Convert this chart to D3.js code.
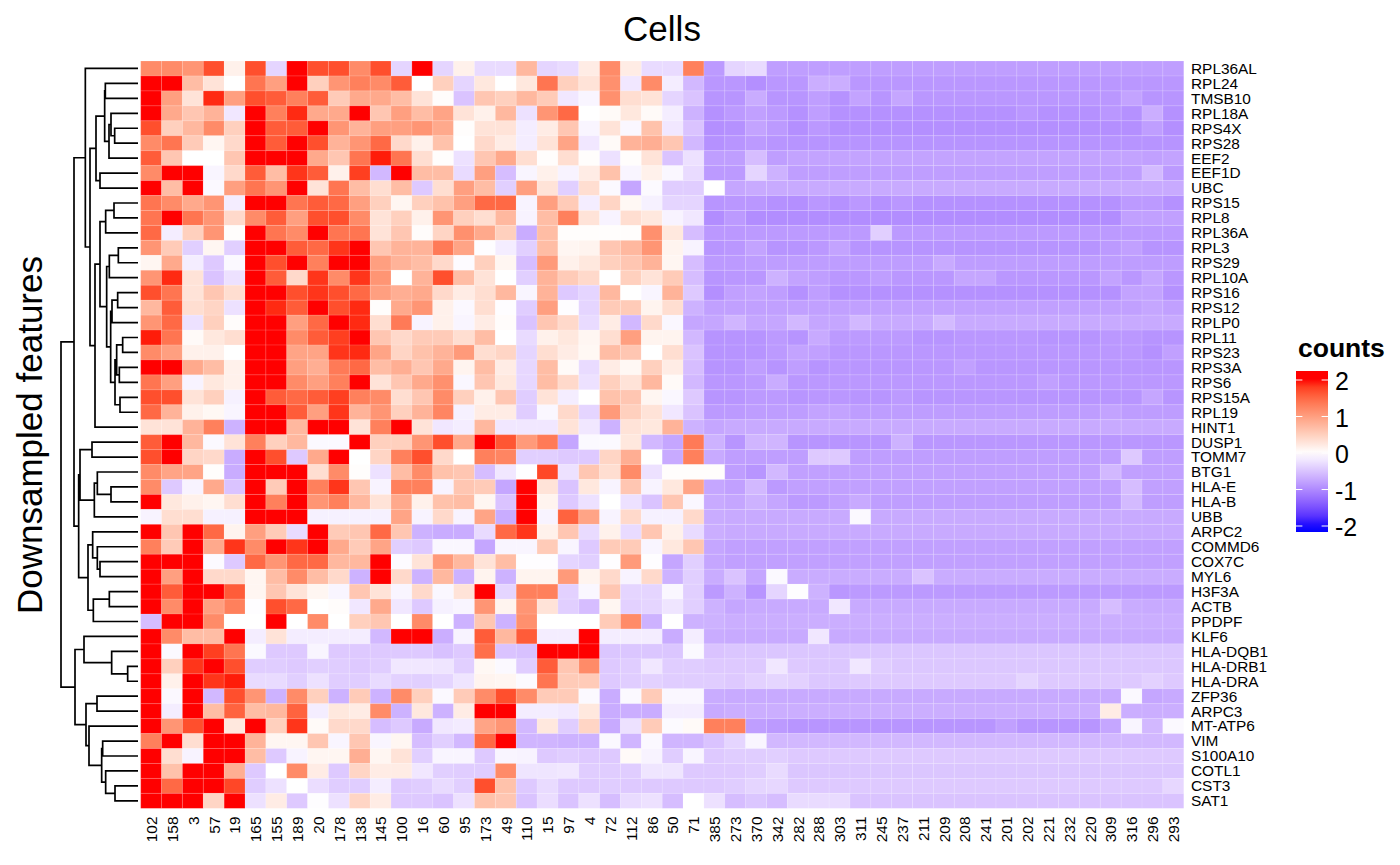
<!DOCTYPE html>
<html><head><meta charset="utf-8">
<script src="https://cdnjs.cloudflare.com/ajax/libs/d3/7.8.5/d3.min.js"></script>
<style>html,body{margin:0;padding:0;background:#fff}svg{display:block}text{font-family:"Liberation Sans",Arial,sans-serif;fill:#000}</style>
</head><body><svg id="c" width="1400" height="865"></svg>
<script>
const cells = ["102","158","3","57","19","165","155","189","20","178","138","145","100","16","60","95","173","49","110","15","97","4","72","112","86","50","71","385","273","370","342","282","288","303","311","245","237","211","209","208","241","201","202","221","232","220","309","316","296","293"];
const features = ["RPL36AL","RPL24","TMSB10","RPL18A","RPS4X","RPS28","EEF2","EEF1D","UBC","RPS15","RPL8","RPL36A","RPL3","RPS29","RPL10A","RPS16","RPS12","RPLP0","RPL11","RPS23","RPS3A","RPS6","RPS15A","RPL19","HINT1","DUSP1","TOMM7","BTG1","HLA-E","HLA-B","UBB","ARPC2","COMMD6","COX7C","MYL6","H3F3A","ACTB","PPDPF","KLF6","HLA-DQB1","HLA-DRB1","HLA-DRA","ZFP36","ARPC3","MT-ATP6","VIM","S100A10","COTL1","CST3","SAT1"];
const counts = [
[1.2,1.2,1.1,1.7,.15,1.7,-.35,2.2,1.7,1.7,1.2,1.7,-.35,2.2, -.35,.15,-.3,-.3,.75,-.35,-.3,.2,1.2,.2,-.3,-.3,1.3, -.85,-.35,-.3,-.82,-.82,-.82,-.82,-.82,-.82,-.82,-.82,-.82,-.82,-.82,-.82,-.82,-.82,-.82,-.82,-.82,-.82,-.82,-.82],
[2.2,2.2,.7,.3,0,1.4,1,2.2,.5,1.1,1.3,1.2,1.6,0, .5,-.35,.25,0,.25,1.4,.5,.3,1.15,-.2,1.2,-.15,-.6, -.88,-.88,-.95,-.88,-.88,-.68,-.68,-.88,-.88,-.88,-.88,-.88,-.88,-.88,-.88,-.88,-.88,-.88,-.88,-.88,-.88,-.88,-.88],
[2.2,1,.3,1.9,1,1.7,1.6,1.3,1.6,.55,.9,.9,.7,.3, .03,-.5,.6,.5,.75,.55,-.2,-.08,1.15,.35,.3,-.35,-.5, -.9,-.9,-.7,-.9,-.9,-.82,-.92,-.78,-.9,-.75,-.88,-.88,-.88,-.88,-.88,-.88,-.88,-.88,-.88,-.88,-.78,-.9,-.9],
[2.2,.9,.6,.8,-.2,2.2,1.3,1.9,.9,.9,2.2,.6,1,.7, .95,.3,.15,.75,-.25,1.1,1.5,0,.05,.25,.05,-.15,-.65, -.93,-.85,-.8,-.85,-.93,-.82,-.93,-.93,-.93,-.93,-.93,-.93,-.93,-.93,-.93,-.88,-.93,-.93,-.93,-.88,-.93,-.68,-.93],
[1.7,.5,.75,1.2,.5,2.2,1.6,1.6,2.2,1.1,.8,1,1,1.1, .9,.02,.3,.3,-.15,.2,.6,-.08,.3,-.07,.65,-.2,-.5, -.95,-.93,-.78,-.85,-.95,-.87,-.95,-.95,-.95,-.95,-.95,-.95,-.95,-.95,-.95,-.95,-.95,-.95,-.95,-.95,-.95,-.82,-.95],
[1.2,1.4,.55,.1,.4,2.2,1.6,2.2,1.7,.8,1.1,1.5,.4,.15, .65,0,.4,.2,-.15,.3,.95,-.2,.05,.8,.85,.6,-.6, -.93,-.9,-.85,-.9,-.91,-.91,-.91,-.91,-.91,-.91,-.91,-.91,-.91,-.91,-.91,-.91,-.91,-.91,-.91,-.91,-.91,-.91,-.91],
[1.6,.6,0,0,.6,2.2,2.2,2,.9,.6,1.4,1.95,1.4,.35, .02,-.25,.6,.9,.35,.02,.35,.02,-.25,.02,.3,-.5,-.25, -.82,-.82,-.55,-.82,-.78,-.78,-.78,-.78,-.78,-.78,-.78,-.78,-.78,-.78,-.78,-.78,-.78,-.78,-.78,-.78,-.78,-.8,-.78],
[1.2,2.2,2.2,-.08,.4,1.6,.7,1.85,1.6,.15,1.8,-.6,2.2,.7, .7,-.3,1,-.55,-.08,.15,-.1,.2,.65,-.08,.15,-.07,-.3, -.85,-.85,-.35,-.65,-.82,-.82,-.82,-.82,-.82,-.82,-.82,-.82,-.82,-.82,-.82,-.82,-.82,-.82,-.82,-.82,-.82,-.58,-.85],
[2.2,.7,2.2,-.05,1,1.4,1.1,2.2,.3,1.4,.7,.35,.7,-.45, .35,1,.7,-.4,1,.3,-.4,.35,-.05,-.75,-.04,-.42,-.42, 0,-.75,-.72,-.72,-.72,-.72,-.72,-.72,-.72,-.72,-.72,-.72,-.72,-.72,-.72,-.72,-.72,-.72,-.72,-.72,-.72,-.72,-.72],
[1.4,1.2,.9,1.1,-.15,2.2,2.2,1.4,1.6,1.5,1,.5,.1,.5, .65,1,1.5,1.5,-.1,1,.55,-.15,.45,.08,-.12,-.35,-.35, -.9,-.88,-.88,-.93,-.95,-.88,-.93,-.87,-.93,-.88,-.93,-.93,-.93,-.93,-.93,-.93,-.93,-.93,-.93,-.93,-.85,-.85,-.93],
[1.4,2.2,1.4,1.1,.4,1.2,1.6,1,1.7,1.7,1.2,.3,.5,.15, 1.1,.5,.35,.75,-.1,.7,1.3,.3,-.1,.35,.25,-.1,-.2, -.97,-.85,-.97,-.97,-.97,-.97,-.97,-.97,-.97,-.97,-.97,-.97,-.97,-.97,-.97,-.97,-.97,-.97,-.97,-.97,-.8,-.8,-.8],
[1.5,-.15,.5,1.1,.02,2.2,1.4,1.2,2.2,1.4,1.4,.3,.6,.03, .45,1.15,.9,.5,-.7,.7,.02,.02,.02,.02,1.15,.25,-.55, -.87,-.87,-.85,-.85,-.85,-.85,-.85,-.85,-.4,-.85,-.85,-.85,-.85,-.85,-.85,-.85,-.85,-.85,-.85,-.85,-.85,-.85,-.85],
[1.1,.55,-.4,.1,-.4,2.2,2.2,1.6,1.5,1.85,2,.6,.8,.8, 1.35,.95,-.02,-.15,-.4,.7,.1,.12,.6,.75,1.1,.12,-.1, -.9,-.88,-.78,-.91,-.91,-.87,-.78,-.91,-.91,-.91,-.91,-.91,-.91,-.91,-.91,-.91,-.91,-.91,-.91,-.85,-.8,-.91,-.91],
[.1,.9,-.15,-.45,-.05,2.2,1.7,2.2,1.3,2,2.2,1,.8,.7, .4,-.03,.5,.1,-.55,1.05,.15,.25,.5,.6,.8,.1,-.55, -.85,-.85,-.83,-.83,-.83,-.83,-.83,-.83,-.83,-.83,-.83,-.72,-.83,-.83,-.83,-.83,-.83,-.83,-.83,-.83,-.83,-.83,-.83],
[1.1,1.9,.3,-.5,-.25,2.2,1.6,.4,1.85,1.2,1.85,1.1,0,.8, 1.7,.7,.3,0,-.4,.8,.55,.4,0,.5,.3,.55,-.55, -.9,-.88,-.88,-.65,-.78,-.82,-.88,-.88,-.82,-.88,-.88,-.88,-.75,-.75,-.88,-.88,-.88,-.88,-.88,-.78,-.88,-.75,-.88],
[1.7,1.4,.3,.6,.35,2.2,2,1.7,1.85,1.7,1.5,1,.85,.9, .4,.2,.35,.75,-.08,.8,-.45,-.35,.75,0,-.08,.8,-.45, -.95,-.8,-.78,-.82,-.93,-.82,-.93,-.93,-.93,-.93,-.93,-.93,-.93,-.93,-.93,-.93,-.93,-.93,-.93,-.93,-.78,-.78,-.93],
[.75,1.6,.35,.45,-.25,2.2,1.9,1.6,2.2,1.7,1.9,.02,.9,1.1, .15,-.06,.35,-.02,-.42,1,-.02,-.35,.55,.55,.12,.35,-.65, -.8,-.8,-.8,-.8,-.8,-.8,-.8,-.8,-.8,-.8,-.8,-.8,-.8,-.8,-.8,-.8,-.8,-.8,-.8,-.8,-.8,-.75,-.8],
[1.1,1.5,-.25,.5,.03,2.2,2.2,1,1.5,2,1.9,.35,1.35,-.1, .15,-.08,.2,.03,-.5,.6,.4,-.3,.2,-.6,.4,-.07,-.75, -.75,-.62,-.75,-.75,-.6,-.75,-.75,-.6,-.72,-.72,-.72,-.58,-.72,-.72,-.72,-.72,-.72,-.72,-.72,-.72,-.72,-.72,-.72],
[1.95,1.4,.05,.25,.35,2.2,2.2,1.2,1.6,1.8,2,.6,.4,.55, .55,.35,.7,0,-.3,.15,.25,.1,.35,1,.12,.12,-.6, -.91,-.91,-.91,-.85,-.91,-.72,-.85,-.85,-.85,-.85,-.91,-.91,-.88,-.88,-.88,-.88,-.91,-.91,-.91,-.87,-.87,-.91,-.91],
[1.2,1,.15,.15,0,2.2,2.2,.95,.95,1.85,1.9,.95,.45,.65, .8,1.05,.35,.45,-.35,.35,.2,.08,.7,.6,0,.35,-.5, -.91,-.91,-.91,-.85,-.78,-.8,-.88,-.88,-.88,-.88,-.88,-.88,-.88,-.88,-.88,-.88,-.88,-.88,-.88,-.87,-.87,-.93,-.8],
[2.2,2,.9,.7,.15,2.2,2.2,1,.85,1.35,1.5,.7,.85,.6, .9,.12,.7,.2,-.33,.7,.05,-.3,.2,.08,.5,.2,-.55, -.91,-.91,-.82,-.91,-.82,-.91,-.88,-.89,-.89,-.89,-.88,-.88,-.8,-.89,-.89,-.89,-.89,-.89,-.89,-.89,-.89,-.89,-.89],
[1.4,1,-.1,.25,.15,2.2,2.2,1.2,1,1.3,2.2,.3,.6,.9, 1.15,-.07,.6,.25,-.33,.7,.4,-.25,.5,.3,.75,.05,-.6, -.88,-.88,-.85,-.7,-.88,-.87,-.87,-.87,-.87,-.87,-.87,-.87,-.87,-.87,-.87,-.87,-.8,-.87,-.87,-.87,-.87,-.87,-.87],
[1.7,1.7,.3,.5,-.12,2.2,1.6,1.5,1.6,1.8,1.3,1.2,.35,.6, 1.2,.5,.15,.6,-.42,.3,-.15,0,.65,.6,.1,-.07,-.45, -.9,-.9,-.85,-.85,-.9,-.88,-.88,-.9,-.9,-.85,-.9,-.9,-.89,-.89,-.89,-.9,-.9,-.9,-.9,-.9,-.9,-.75,-.9],
[1.5,.8,.15,.08,-.08,2.2,2.2,1.6,1,1.85,.8,1.1,.5,.8, 1.25,-.12,.2,.2,-.42,-.07,.4,-.35,1.05,.5,.3,-.2,-.5, -.85,-.85,-.83,-.83,-.83,-.78,-.78,-.83,-.83,-.83,-.83,-.83,-.83,-.83,-.83,-.83,-.83,-.83,-.83,-.78,-.83,-.83,-.83],
[.3,.3,.8,1.3,-.65,2.2,2.2,.75,2.2,2.2,.3,1.3,2.2,.3, -.2,-.15,.75,-.2,-.2,-.2,.3,-.2,-.65,.3,.25,.8,-.65, -.75,-.72,-.72,-.72,-.72,-.72,-.72,-.72,-.72,-.72,-.72,-.72,-.72,-.72,-.72,-.72,-.72,-.72,-.72,-.72,-.72,-.72,-.72],
[1.6,2.2,.75,-.05,.3,1.3,.5,.75,-.05,-.05,2.2,.5,.5,1.1, 1.7,.9,2.2,1.65,1.05,1.35,-.75,-.05,-.05,.25,-.6,-.75,1.35, -.65,-.9,-.62,-.62,-.9,-.9,-.9,-.9,-.9,-.65,-.88,-.88,-.88,-.88,-.88,-.88,-.88,-.88,-.88,-.88,-.88,-.88,-.88],
[1.7,2.2,.45,.4,-.7,2.2,1.7,-.45,.9,2.2,0,.45,1.3,1.7, .4,0,1.3,1.25,-.4,-.4,-.45,-.45,.45,.85,0,-.72,1.3, -.72,-.82,-.82,-.82,-.82,-.45,-.45,-.82,-.82,-.82,-.82,-.82,-.82,-.82,-.82,-.82,-.82,-.82,-.82,-.82,-.45,-.82,-.82],
[1.2,.95,.95,.02,-.7,2.2,2.2,2.2,.35,1.2,.02,-.25,.7,1.2, .65,.6,-.55,-.2,-.01,1.75,-.25,.6,.35,1.2,-.25,.02,.02, .02,-.82,-.9,-.6,-.8,-.8,-.8,-.8,-.8,-.8,-.8,-.8,-.8,-.8,-.8,-.8,-.8,-.8,-.8,-.6,-.8,-.8,-.8],
[1.2,-.45,-.1,.9,-.5,2.2,.55,2.2,1.3,1.85,.6,-.1,1.3,1.3, -.1,.6,.55,-.75,2.2,.3,-.5,.25,-.1,.6,-.1,.25,.95, -.75,-.8,-.6,-.85,-.8,-.8,-.8,-.8,-.8,-.8,-.8,-.8,-.8,-.8,-.8,-.8,-.8,-.8,-.8,-.8,-.55,-.8,-.8],
[2.2,.25,.15,.1,.35,2.1,1.3,2.2,1.1,1.3,.75,.3,.9,.15, .65,.7,.1,-.5,2.2,.12,-.45,-.25,0,-.25,-.5,.6,-.07, -.72,-.75,-.65,-.75,-.85,-.85,-.8,-.72,-.82,-.82,-.82,-.82,-.82,-.82,-.82,-.82,-.82,-.82,-.82,-.82,-.58,-.82,-.82],
[-.1,.35,.35,-.12,-.12,2.1,2.2,2.2,-.12,-.12,-.12,-.12,.95,-.1, .4,-.1,.95,-.7,2.2,-.1,1.55,.95,-.1,.4,-.12,-.12,.4, -.7,-.72,-.72,-.72,-.72,-.72,-.72,-.05,-.72,-.72,-.72,-.72,-.72,-.72,-.72,-.72,-.72,-.72,-.72,-.72,-.72,-.72,-.72],
[2.2,.6,2.2,1.5,.12,1,.55,-.3,2.2,.55,.6,1.5,.6,-.65, -.7,-.7,-.3,1.5,1.85,.15,.6,-.3,.15,-.3,.6,.15,-.3, -.68,-.72,-.72,-.72,-.72,-.72,-.72,-.72,-.72,-.72,-.72,-.72,-.72,-.72,-.72,-.72,-.72,-.72,-.72,-.72,-.72,-.72,-.72],
[1.3,.55,2.2,.9,1.85,1.2,2.2,1.85,2.2,.9,.55,.95,-.4,-.45, -.07,-.07,-.75,-.08,-.08,.55,-.08,-.45,.55,.55,-.08,.25,.6, -.75,-.8,-.8,-.8,-.8,-.8,-.8,-.8,-.8,-.8,-.8,-.8,-.8,-.8,-.8,-.8,-.8,-.8,-.8,-.8,-.8,-.8,-.8],
[2.2,2.2,2.2,-.04,-.45,1.5,1.1,1.5,1.5,.75,.75,2.2,-.03,.3, 1.05,.75,.3,.7,-.02,-.02,-.35,-.4,-.02,1.05,-.02,-.75,-.4, -.75,-.8,-.8,-.8,-.8,-.8,-.8,-.8,-.8,-.8,-.8,-.8,-.8,-.8,-.8,-.8,-.8,-.8,-.8,-.8,-.8,-.8,-.8],
[2.2,1,2.2,.4,.4,.1,.7,1.2,.7,.4,-.65,2.2,.4,-.65, .75,-.65,.12,-.65,.12,.12,1.05,.12,.4,-.1,.4,-.65,-.4, -.7,-.5,-.75,-.05,-.7,-.7,-.7,-.7,-.7,-.7,-.5,-.7,-.7,-.7,-.7,-.7,-.7,-.7,-.7,-.7,-.7,-.7,-.7],
[2.2,1.6,2.2,2.2,1.6,.1,.6,.3,.1,-.08,.6,.3,-.08,.4, -.07,.3,2.2,-.35,1.3,1.3,-.38,-.07,.6,-.35,-.35,-.07,-.4, -.85,-.65,-.9,-.35,-.02,-.65,-.88,-.85,-.85,-.85,-.85,-.85,-.85,-.85,-.85,-.85,-.85,-.85,-.85,-.85,-.85,-.85,-.85],
[2.2,1.2,2.2,1,1.3,-.02,1.7,1.5,0,.03,-.2,.9,-.2,-.45, -.12,-.08,1.1,.12,1.1,.3,-.4,-.55,.1,-.38,-.35,-.22,-.4, -.65,-.75,-.72,-.72,-.72,-.72,-.2,-.72,-.72,-.72,-.72,-.72,-.72,-.72,-.72,-.72,-.72,-.72,-.72,-.55,-.7,-.72,-.72],
[-.55,2.2,2.2,1.2,0,0,2.2,0,1.2,0,.5,.6,0,1.2, 0,-.65,.6,-.65,1.15,0,0,0,.55,1.2,-.65,0,-.65, -.65,-.68,-.68,-.68,-.68,-.68,-.68,-.68,-.68,-.68,-.68,-.68,-.68,-.68,-.68,-.68,-.68,-.68,-.68,-.68,-.68,-.68,-.68],
[2.2,1.2,.7,.7,2.2,-.15,.3,-.15,-.15,-.15,-.15,-.6,2.2,2.2, -.68,-.1,1.6,.75,1.6,-.15,-.15,2.2,-.15,-.15,-.15,-.7,-.15, -.7,-.72,-.72,-.72,-.72,-.2,-.72,-.72,-.72,-.72,-.72,-.72,-.72,-.72,-.72,-.72,-.72,-.72,-.72,-.72,-.72,-.72,-.72],
[2.2,-.05,2.2,1.8,1.4,-.05,-.45,-.45,-.08,-.45,-.45,-.45,-.45,-.45, -.52,-.45,1.45,-.5,-.52,2.2,2.2,2.2,-.48,-.48,-.48,-.48,-.05, -.5,-.48,-.48,-.48,-.48,-.48,-.48,-.48,-.48,-.48,-.48,-.48,-.48,-.48,-.48,-.48,-.48,-.48,-.48,-.48,-.48,-.48,-.48],
[2.2,.5,1.85,2.2,1.7,-.42,-.42,-.45,-.4,-.42,-.45,-.42,-.2,-.2, -.22,-.4,.08,-.05,-.42,1.6,.6,1.2,-.45,-.42,-.2,-.42,-.42, -.45,-.45,-.45,-.2,-.45,-.47,-.47,-.2,-.42,-.47,-.47,-.47,-.47,-.47,-.47,-.47,-.47,-.47,-.47,-.47,-.47,-.47,-.47],
[2.2,.15,2.2,1.85,1.95,-.3,-.3,-.4,-.25,-.42,-.42,-.3,-.38,-.4, -.35,-.22,.12,.1,-.04,1.4,.55,.55,-.45,-.42,-.38,-.42,-.42, -.42,-.45,-.38,-.35,-.38,-.47,-.47,-.45,-.45,-.45,-.45,-.45,-.45,-.45,-.45,-.35,-.45,-.45,-.45,-.45,-.45,-.38,-.45],
[2.2,-.06,2.2,-.6,1.7,1.1,-.65,1.2,.5,-.65,.55,-.65,1.2,.5, -.05,.55,1.2,1.7,1.2,.55,.55,-.05,-.7,-.05,.55,-.07,-.07, -.7,-.72,-.72,-.72,-.72,-.72,-.72,-.72,-.72,-.72,-.72,-.72,-.72,-.72,-.72,-.72,-.72,-.72,-.72,-.72,-.05,-.75,-.72],
[2.2,-.15,2.2,.7,1.55,.7,.75,1.55,-.15,.25,.2,1.2,-.65,.25, -.65,.2,2.2,2.2,-.15,-.15,-.18,.25,-.7,-.68,-.7,-.15,-.15, -.72,-.68,-.68,-.68,-.68,-.68,-.68,-.68,-.68,-.68,-.68,-.68,-.68,-.68,-.68,-.68,-.68,-.68,-.68,.2,-.68,-.68,-.68],
[2.2,1.1,1.7,2.2,.25,2.2,.5,1.85,.05,.4,.4,-.55,-.45,-.72, -.2,-.17,.95,1.1,-.6,.25,-.42,.45,-.72,-.25,.55,-.04,.05, 1.3,1.3,-.82,-.85,-.9,-.9,-.9,-.9,-.9,-.9,-.9,-.9,-.9,-.9,-.8,-.9,-.9,-.9,-.9,-.75,-.08,-.6,-.05],
[1.3,2.2,.35,2.2,2.2,.8,.1,.1,.6,-.08,.6,-.08,.1,-.55, -.4,-.6,1.5,2.2,-.62,-.62,-.65,-.65,-.06,-.62,-.06,-.62,-.62, -.5,-.35,-.08,-.6,-.6,-.6,-.6,-.6,-.6,-.6,-.6,-.6,-.6,-.6,-.6,-.6,-.6,-.6,-.6,-.6,-.6,-.6,-.6],
[2.2,.35,-.1,2.2,2.2,.7,-.45,-.1,.1,.1,.85,.1,.3,-.4, -.08,-.08,-.45,-.08,-.1,-.45,-.42,-.45,-.45,.05,-.1,-.42,-.08, -.45,-.42,-.42,-.4,-.45,-.45,-.45,-.45,-.45,-.45,-.45,-.45,-.45,-.45,-.45,-.45,-.45,-.45,-.45,-.45,-.45,-.45,-.45],
[2.2,.65,2.2,2.2,.85,-.45,0,1.2,.2,-.45,.45,.2,.2,-.2, -.4,-.42,-.42,1.2,-.22,-.22,-.2,-.42,-.42,-.42,-.22,-.22,-.45, -.45,-.45,-.42,-.3,-.48,-.48,-.48,-.48,-.48,-.48,-.48,-.48,-.48,-.48,-.48,-.48,-.48,-.48,-.48,-.48,-.48,-.48,-.48],
[2.2,1.5,2.2,2.2,1.75,-.42,-.25,0,-.28,-.42,-.42,-.15,-.45,-.42, -.3,-.4,1.7,.65,-.45,-.3,-.45,-.45,-.42,-.45,-.45,-.45,-.45, -.45,-.42,-.35,-.33,-.45,-.45,-.45,-.45,-.45,-.45,-.45,-.45,-.45,-.45,-.45,-.45,-.45,-.45,-.45,-.45,-.45,-.45,-.33],
[2.2,2.2,2.2,.45,2.2,-.25,.2,-.45,-.02,-.25,.45,.2,-.45,-.45, -.5,-.25,.65,.6,-.5,-.28,-.5,-.25,-.55,-.3,-.25,-.55,0, -.25,-.55,-.48,-.55,-.3,-.3,-.3,-.5,-.5,-.5,-.5,-.5,-.5,-.5,-.5,-.5,-.5,-.5,-.5,-.5,-.5,-.5,-.5]
];
const legendTicks = [-2,-1,0,1,2];
const node = (h, a, b) => ({h, children:[a,b]});
const rowTree = node(231,
  node(192,
    node(158,"RPL36AL",
      node(144,
        node(126,
          node(100,
            node(98,"RPL24","TMSB10"),
            node(87,node(81,"RPL18A",node(70,"RPS4X","RPS28")),"EEF2")),
          node(114,"EEF1D","UBC")),
        node(129,
          node(114,
            node(97,node(72,"RPS15","RPL8"),"RPL36A"),
            node(94,
              node(86,node(59,"RPL3","RPS29"),"RPL10A"),
              node(82,
                node(78,node(61,"RPS16","RPS12"),"RPLP0"),
                node(69,
                  node(64,node(46,"RPL11","RPS23"),node(56,"RPS3A","RPS6")),
                  node(54,"RPS15A","RPL19"))))),
          "HINT1"))),
    node(178,
      node(174,
        node(138,"DUSP1","TOMM7"),
        node(131,node(122,"BTG1",node(81,"HLA-E","HLA-B")),"UBB")),
      node(150,
        node(136,"ARPC2",node(122,"COMMD6",node(114,"COX7C","MYL6"))),
        node(134,node(86,"H3F3A","ACTB"),"PPDPF")))),
  node(189,
    node(162,"KLF6",node(79,"HLA-DQB1",node(31,"HLA-DRB1","HLA-DRA"))),
    node(156,
      node(123,"ZFP36","ARPC3"),
      node(147,"MT-ATP6",
        node(109,
          node(106,"VIM","S100A10"),
          node(97,"COTL1",node(69,"CST3","SAT1")))))));

const svg = d3.select("#c");
const x = d3.scaleBand().domain(cells).range([140.7,1183.7]);
const y = d3.scaleBand().domain(features).range([61,808.3]);
const color = d3.scaleLinear().domain([-2,0,2]).range(["#0000ff","#ffffff","#ff0000"]).interpolate(d3.interpolateLab).clamp(true);

features.forEach((f,i)=>{
  svg.append("g").selectAll("rect").data(counts[i]).join("rect")
    .attr("x",(d,j)=>x(cells[j])).attr("y",y(f))
    .attr("width",x.bandwidth()).attr("height",y.bandwidth())
    .attr("fill",d=>color(d));
});
// faint seams between tiles
svg.append("g").selectAll("line").data(cells).join("line")
  .attr("x1",d=>x(d)).attr("x2",d=>x(d)).attr("y1",y.range()[0]).attr("y2",y.range()[1])
  .attr("stroke","#fff").attr("stroke-opacity",.22).attr("stroke-width",.7);
svg.append("g").selectAll("line").data(features).join("line")
  .attr("y1",d=>y(d)).attr("y2",d=>y(d)).attr("x1",x.range()[0]).attr("x2",x.range()[1])
  .attr("stroke","#fff").attr("stroke-opacity",.22).attr("stroke-width",.7);

// labels
svg.append("g").selectAll("text").data(features).join("text")
  .attr("x",1191).attr("y",d=>y(d)+y.bandwidth()/2+5.4)
  .attr("font-size",15.4).text(d=>d);
svg.append("g").selectAll("text").data(cells).join("text")
  .attr("transform",d=>`translate(${x(d)+x.bandwidth()/2+5.8},816.5) rotate(-90)`)
  .attr("text-anchor","end").attr("font-size",15.4).text(d=>d);
svg.append("text").attr("x",662).attr("y",41).attr("text-anchor","middle").attr("font-size",35).text("Cells");
svg.append("text").attr("transform","translate(42,435) rotate(-90)").attr("text-anchor","middle").attr("font-size",35).text("Downsampled features");

// dendrogram
const root = d3.hierarchy(rowTree, d=>d.children);
const dx = d3.scaleLinear().domain([0,231]).range([138,61]);
const ypos = n => n.children ? d3.mean(n.children, ypos) : y(n.data)+y.bandwidth()/2;
const xpos = n => dx(n.children ? n.data.h : 0);
const dend = d3.path();
root.descendants().filter(n=>n.children).forEach(n=>{
  const nx = xpos(n);
  const ys = n.children.map(ypos);
  dend.moveTo(xpos(n.children[0]),ys[0]);
  dend.lineTo(nx,ys[0]); dend.lineTo(nx,ys[1]); dend.lineTo(xpos(n.children[1]),ys[1]);
});
svg.append("path").attr("d",dend.toString()).attr("fill","none").attr("stroke","#000").attr("stroke-width",1.7);

// legend
const ly = d3.scaleLinear().domain([0,2]).range([453,380]);
const grad = svg.append("defs").append("linearGradient").attr("id","lg").attr("x1",0).attr("x2",0).attr("y1",0).attr("y2",1);
const lTop = 371, lBot = 532;
d3.range(0,1.0001,.05).forEach(t=>{
  const v = ly.invert(lTop + t*(lBot-lTop));
  grad.append("stop").attr("offset",t).attr("stop-color",color(v));
});
svg.append("rect").attr("x",1296).attr("y",lTop).attr("width",32).attr("height",lBot-lTop).attr("fill","url(#lg)");
const lt = svg.append("g").selectAll("g").data(legendTicks).join("g");
lt.append("line").attr("x1",1296).attr("x2",1302.4).attr("y1",d=>ly(d)).attr("y2",d=>ly(d)).attr("stroke","#fff").attr("stroke-width",1);
lt.append("line").attr("x1",1321.6).attr("x2",1328).attr("y1",d=>ly(d)).attr("y2",d=>ly(d)).attr("stroke","#fff").attr("stroke-width",1);
lt.append("text").attr("x",1335).attr("y",d=>ly(d)+10).attr("font-size",25).text(d=>d);
svg.append("text").attr("x",1298).attr("y",357).attr("font-size",26.5).attr("font-weight","bold").text("counts");
</script></body></html>
